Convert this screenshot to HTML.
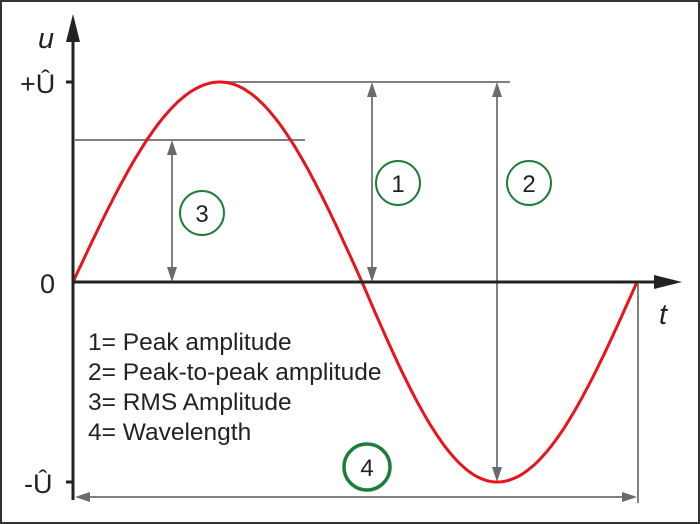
<!DOCTYPE html>
<html><head><meta charset="utf-8"><style>
html,body{margin:0;padding:0;background:#fff;}
svg{display:block;}
text{font-family:"Liberation Sans",Arial,sans-serif;}
</style></head><body>
<svg id="s" width="700" height="524" viewBox="0 0 700 524" xmlns="http://www.w3.org/2000/svg">
<rect x="1" y="1" width="698" height="522" fill="#fff" stroke="#333" stroke-width="2"/>
<g stroke="#808080" stroke-width="2" fill="none">
<line x1="220" y1="82" x2="510" y2="82"/>
<line x1="75" y1="140" x2="305" y2="140"/>
<line x1="372" y1="90" x2="372" y2="274"/>
<line x1="172" y1="148" x2="172" y2="274"/>
<line x1="497" y1="90" x2="497" y2="474"/>
<line x1="80" y1="497" x2="630" y2="497"/>
<line x1="638" y1="284" x2="638" y2="503"/>
</g>
<g fill="#6a6a70">
<polygon points="372,82 367,97 377,97"/><polygon points="372,282 367,267 377,267"/>
<polygon points="172,140 167,155 177,155"/><polygon points="172,282 167,267 177,267"/>
<polygon points="497,82 492,97 502,97"/><polygon points="497,482 492,467 502,467"/>
<polygon points="75,497 90,492 90,502"/><polygon points="637,497 622,492 622,502"/>
</g>
<polyline id="sine" fill="none" stroke="#e8141c" stroke-width="3" points=""/>
<g stroke="#222" stroke-width="3">
<line x1="73" y1="40" x2="73" y2="500"/>
<line x1="73" y1="282" x2="655" y2="282"/>
<line x1="66" y1="82" x2="73" y2="82"/>
<line x1="66" y1="482" x2="73" y2="482"/>
</g>
<polygon points="73,14 66,42 80,42" fill="#222"/>
<polygon points="682,282 654,275 654,289" fill="#222"/>
<text x="38" y="48" font-size="29" font-style="italic" fill="#222">u</text>
<text x="20" y="93" font-size="27" fill="#222">+Û</text>
<text x="40" y="293" font-size="27" fill="#222">0</text>
<text x="24" y="493" font-size="27" fill="#222">-Û</text>
<text x="659" y="324" font-size="29" font-style="italic" fill="#222">t</text>
<g fill="none" stroke="#1e7d3a" stroke-width="2">
<circle cx="398" cy="183" r="22"/><circle cx="529" cy="183" r="22"/><circle cx="202" cy="213" r="22"/>
<circle cx="367" cy="467" r="23" stroke-width="3.5"/>
</g>
<g font-size="24" fill="#222" text-anchor="middle">
<text x="398" y="192">1</text><text x="529" y="192">2</text><text x="202" y="222">3</text><text x="367" y="476">4</text>
</g>
<g font-size="24.5" fill="#222">
<text x="88" y="350">1= Peak amplitude</text>
<text x="88" y="380">2= Peak-to-peak amplitude</text>
<text x="88" y="410">3= RMS Amplitude</text>
<text x="88" y="440">4= Wavelength</text>
</g>
</svg>
<script>
var kx=[73,220,362,497,637],kp=[0,.25,.5,.75,1];
function ph(x){for(var j=0;j<4;j++){if(x<=kx[j+1])return kp[j]+(x-kx[j])/(kx[j+1]-kx[j])*.25;}return 1;}
var p=[];for(var i=0;i<=280;i++){var x=73+564*i/280;var y=282-200*Math.sin(2*Math.PI*ph(x));p.push(x.toFixed(1)+","+y.toFixed(1));}
document.getElementById("sine").setAttribute("points",p.join(" "));
</script>
</body></html>
